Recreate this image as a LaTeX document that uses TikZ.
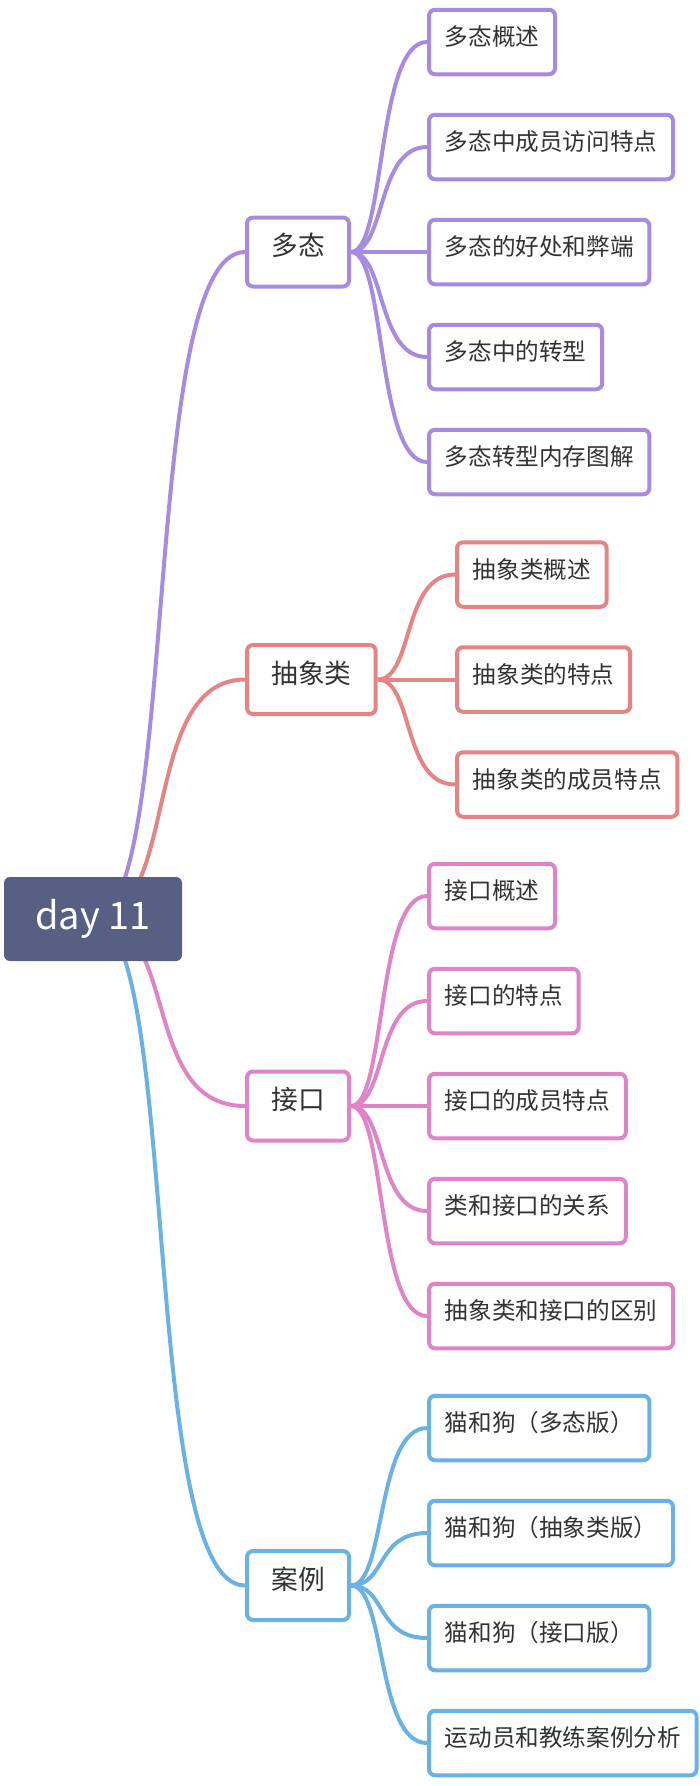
\documentclass[tikz,border=0pt]{standalone}
\usepackage{fontspec}
\setmainfont{Noto Sans CJK SC}
\usetikzlibrary{backgrounds}
\definecolor{rootc}{HTML}{575F82}
\definecolor{duotai}{HTML}{A68BE0}
\definecolor{chouxiang}{HTML}{E58484}
\definecolor{jiekou}{HTML}{DE84C7}
\definecolor{anli}{HTML}{6BB2E4}
\definecolor{txt}{HTML}{333333}
\begin{document}
\begin{tikzpicture}[x=1pt,y=-1pt,
    topic/.style={draw=#1,line width=4pt,rounded corners=6pt,fill=white,text=txt,
      font=\fontsize{26.7}{30}\selectfont,inner xsep=24.3pt,inner ysep=0pt,
      minimum height=69pt,text height=0.78em,text depth=0.02em,anchor=west},
    sub/.style={draw=#1,line width=4pt,rounded corners=6pt,fill=white,text=txt,
      font=\fontsize{23.6}{28}\selectfont,inner xsep=15.8pt,inner ysep=0pt,
      minimum height=64.5pt,text height=0.78em,text depth=0.02em,anchor=west},
    link/.style={draw=#1,line width=4pt}]
    \useasboundingbox (0,0) rectangle (700,1786);
    % root
    \node[fill=rootc,rounded corners=6pt,minimum width=178pt,minimum height=84pt,
      inner sep=0pt,text=white,font=\fontsize{38}{44}\selectfont] (day) at (93,919) {day 11};
    % main topics
    \node[topic=duotai] (dt) at (245,252) {多态};
    \node[topic=chouxiang] (cx) at (245,679.5) {抽象类};
    \node[topic=jiekou] (jk) at (245,1106) {接口};
    \node[topic=anli] (al) at (245,1585.5) {案例};
    % sub topics
    \foreach \t [count=\i] in {多态概述,多态中成员访问特点,多态的好处和弊端,多态中的转型,多态转型内存图解}
        \node[sub=duotai] (dt\i) at (427,{252+(\i-3)*105}) {\t};
    \foreach \t [count=\i] in {抽象类概述,抽象类的特点,抽象类的成员特点}
        \node[sub=chouxiang] (cx\i) at (455,{679.5+(\i-2)*105}) {\t};
    \foreach \t [count=\i] in {接口概述,接口的特点,接口的成员特点,类和接口的关系,抽象类和接口的区别}
        \node[sub=jiekou] (jk\i) at (427,{1106+(\i-3)*105}) {\t};
    \foreach \t [count=\i] in {猫和狗（多态版）,猫和狗（抽象类版）,猫和狗（接口版）,运动员和教练案例分析}
        \node[sub=anli] (al\i) at (427,{1585.5+(\i-2.5)*105}) {\t};
    % connectors
    \begin{scope}[on background layer]
        \draw[link=duotai] (day.center) .. controls +(88,0) and +(-106,0) .. (dt.west);
        \draw[link=chouxiang] (day.center) .. controls +(88,0) and +(-106,0) .. (cx.west);
        \draw[link=jiekou] (day.center) .. controls +(88,0) and +(-106,0) .. (jk.west);
        \draw[link=anli] (day.center) .. controls +(88,0) and +(-106,0) .. (al.west);
        \foreach \i in {1,...,5}
            \draw[link=duotai] (dt.east) .. controls +(35,0) and +(-51,0) .. (dt\i.west);
        \foreach \i in {1,...,3}
            \draw[link=chouxiang] (cx.east) .. controls +(36,0) and +(-53,0) .. (cx\i.west);
        \foreach \i in {1,...,5}
            \draw[link=jiekou] (jk.east) .. controls +(35,0) and +(-51,0) .. (jk\i.west);
        \foreach \i in {1,...,4}
            \draw[link=anli] (al.east) .. controls +(35,0) and +(-51,0) .. (al\i.west);
    \end{scope}
\end{tikzpicture}
\end{document}
